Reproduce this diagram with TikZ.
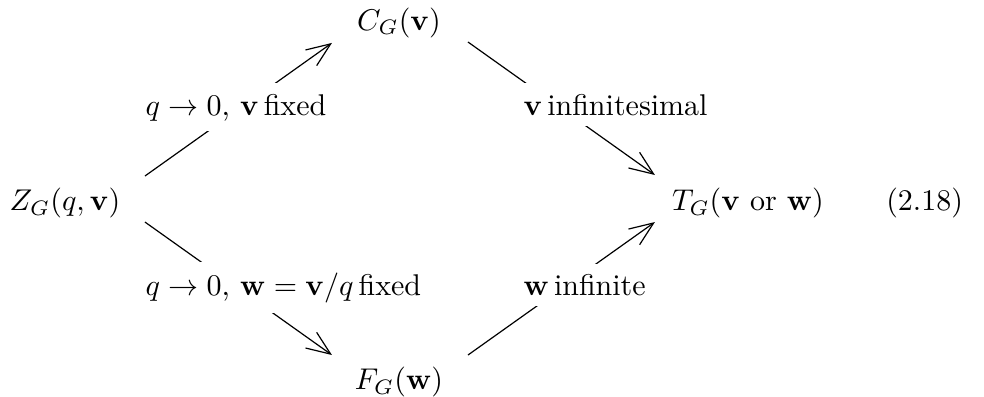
\documentclass[tikz,border=0pt]{standalone}
\usepackage{amsmath}
\usepackage{amssymb}
\usetikzlibrary{positioning,arrows.meta,calc}

\begin{document}
\begin{tikzpicture}[
        term/.style={inner sep=3pt},
        lbl/.style={
            fill=white,
            inner xsep=4pt,
            inner ysep=3.5pt,
            anchor=base west
        },
        arr/.style={-{Straight Barb[length=8pt,width=6.4pt]}}
    ]
        \useasboundingbox (-0.761,-2.261) rectangle (10.766,2.378);
        \node[term] (zg) at (0,0) {$Z_G(q,\mathbf{v})$};
        \node[term] (cg) at (3.913,2.109) {$C_G(\mathbf{v})$};
        \node[term] (fg) at (3.913,-2.097) {$F_G(\mathbf{w})$};
        \node[term] (tg) at (8.001,0) {$T_G(\mathbf{v}\text{ or }\mathbf{w})$};
        \node (eqno) at (10.07,0) {(2.18)};
        \draw[arr] ($(zg)+(0.937,0.316)$) -- ($(cg)+(-0.785,-0.234)$);
        \draw[arr] ($(cg)+(0.808,-0.223)$) -- ($(tg)+(-1.090,0.328)$);
        \draw[arr] ($(zg)+(0.937,-0.223)$) -- ($(fg)+(-0.785,0.316)$);
        \draw[arr] ($(fg)+(0.808,0.316)$) -- ($(tg)+(-1.090,-0.223)$);
        \node[lbl] (zc) at (0.797,1.03) {$q\to 0$, $\mathbf{v}\,\text{fixed}$};
        \node[lbl] (ct) at (5.225,1.03) {$\mathbf{v}\,\text{infinitesimal}$};
        \node[lbl] (zf) at (0.797,-1.08) {$q\to 0$, $\mathbf{w}=\mathbf{v}/q\,\text{fixed}$};
        \node[lbl] (ft) at (5.225,-1.08) {$\mathbf{w}\,\text{infinite}$};
    \end{tikzpicture}
\end{document}
